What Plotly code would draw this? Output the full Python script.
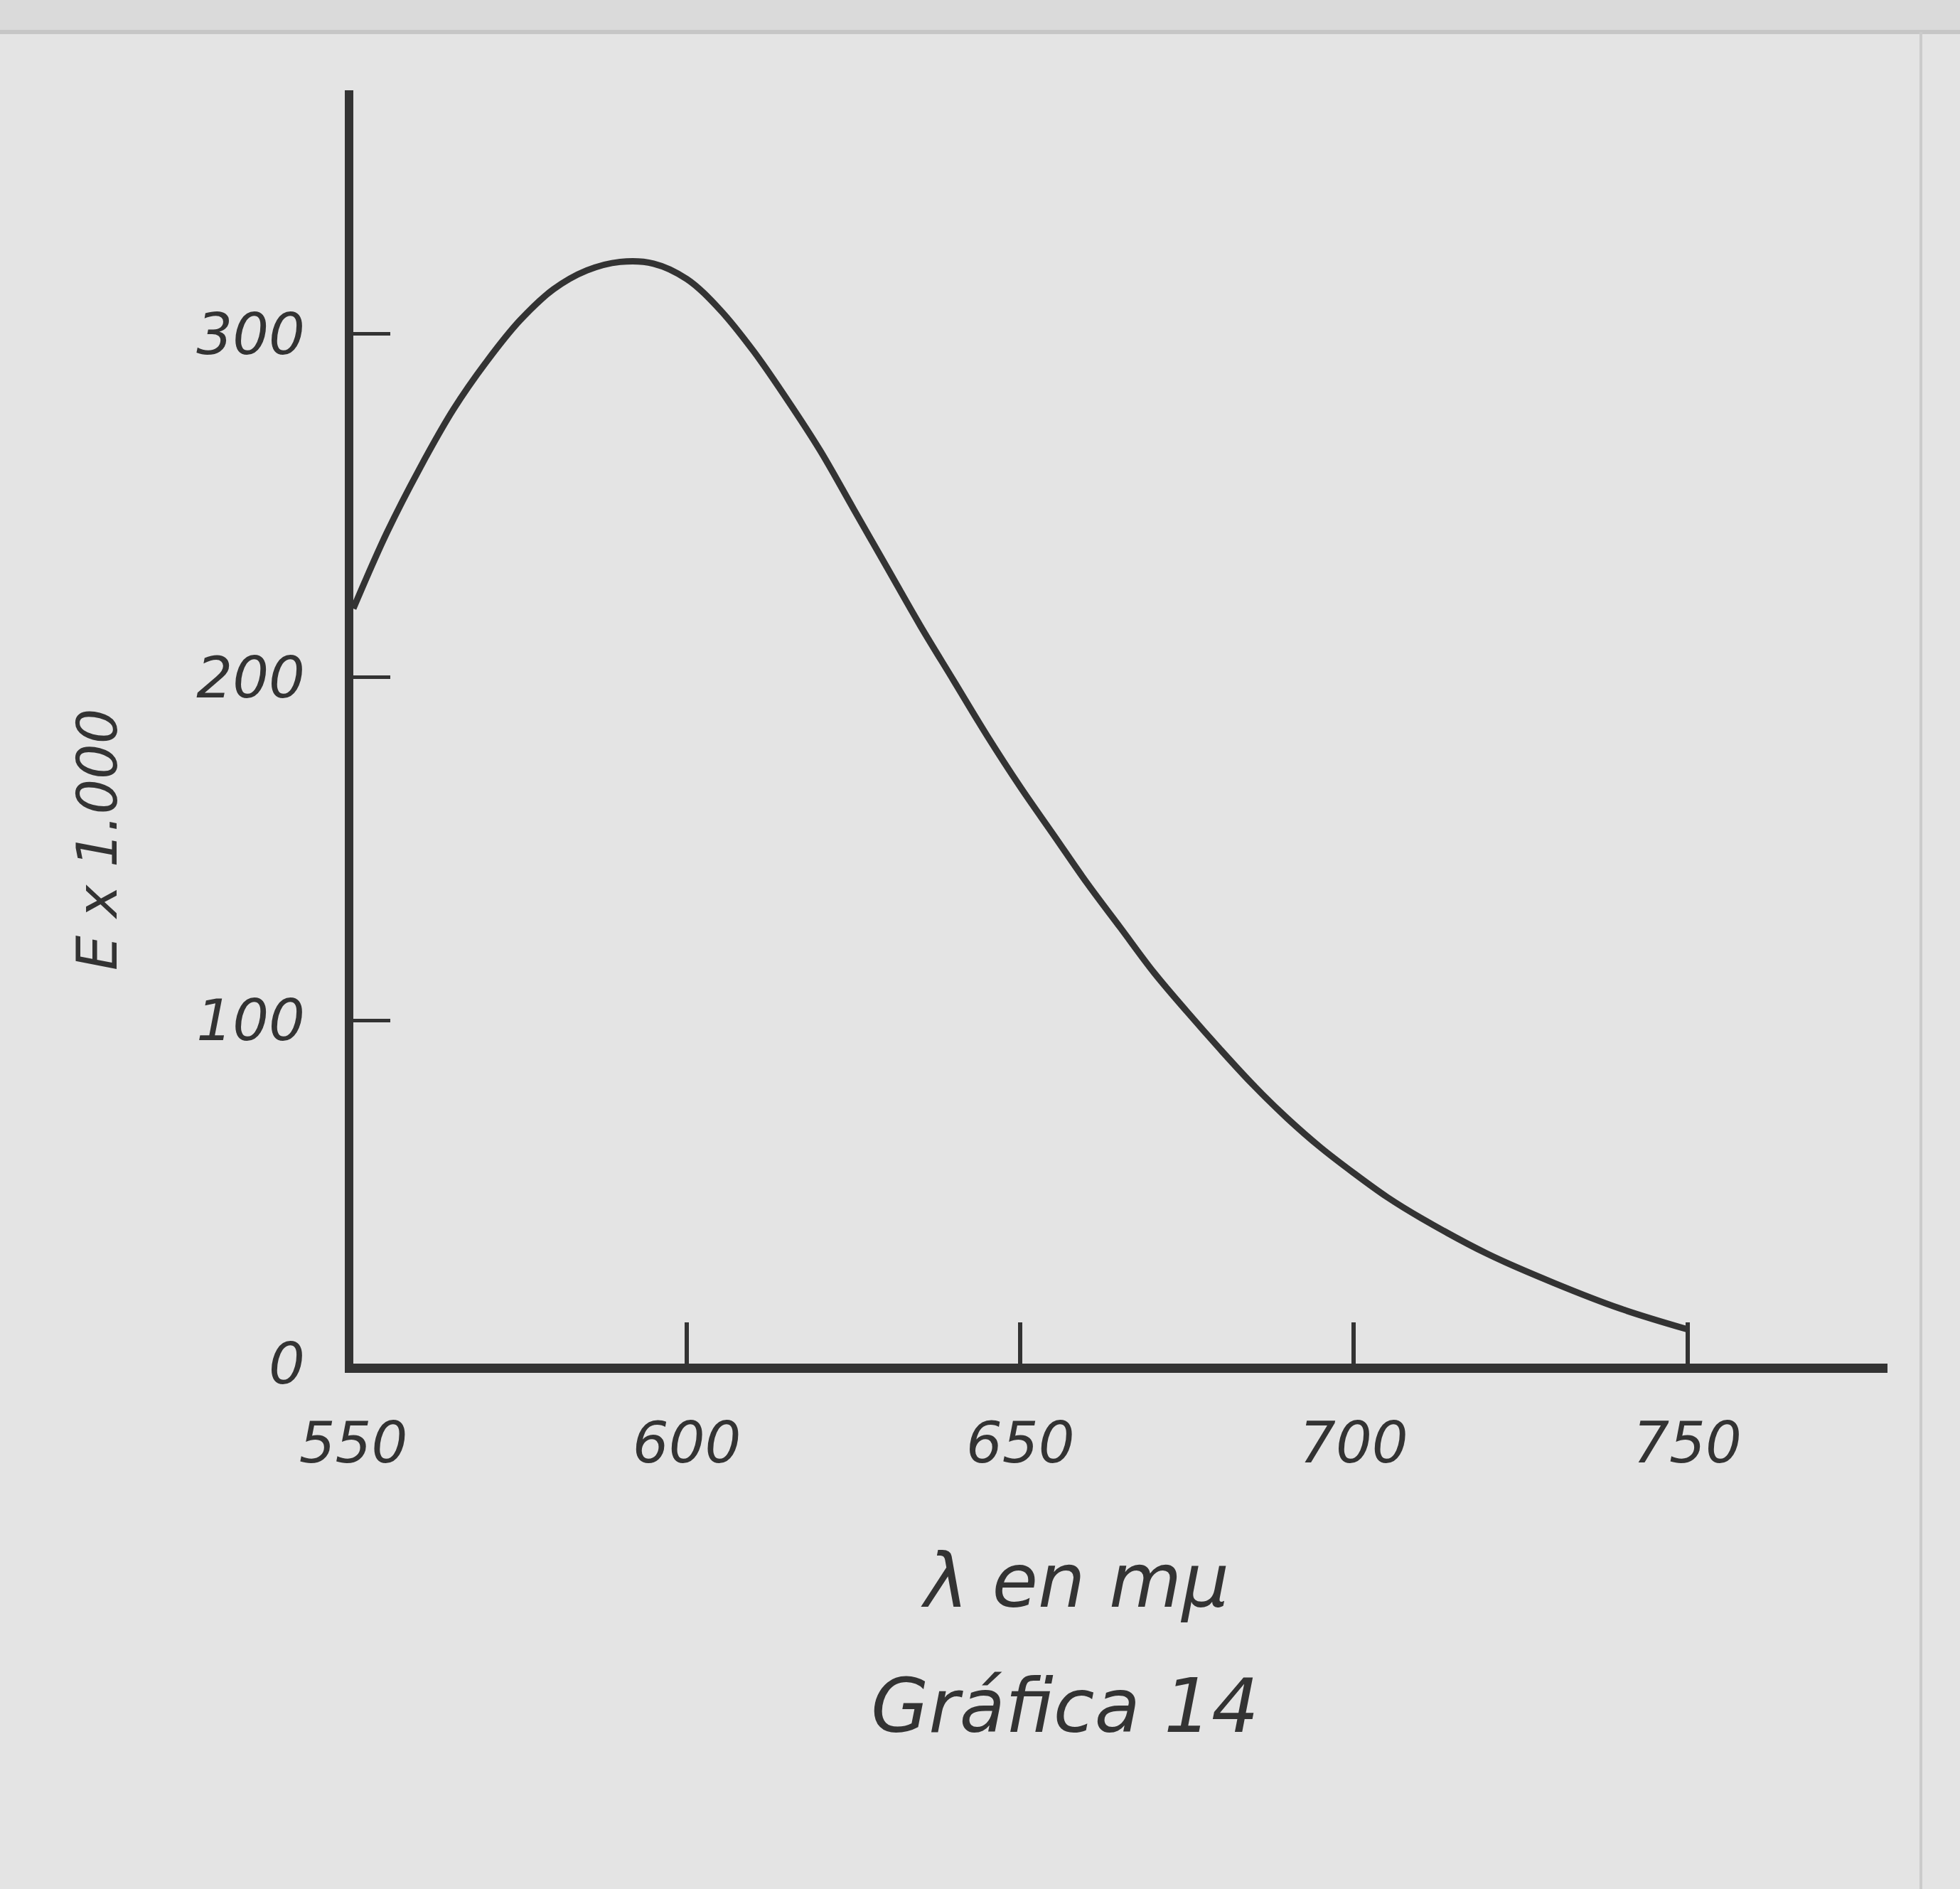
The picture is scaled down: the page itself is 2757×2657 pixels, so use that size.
import plotly.graph_objects as go

# Data (Gráfica 14)
wavelength_nm = [550, 555, 560, 565, 570, 575, 580, 585, 590, 595, 600, 605, 610, 615,
                 620, 625, 630, 635, 640, 645, 650, 655, 660, 665, 670, 675, 680, 685,
                 690, 695, 700, 705, 710, 720, 730, 740, 750]
extinction_x1000 = [220, 242, 261, 278, 292, 304, 313, 318.5, 321, 320.5, 316, 307, 295, 281,
                    266, 249, 232, 215, 199, 183, 168, 154, 140, 127, 114, 102.5, 91.5, 81,
                    71.5, 63, 55.5, 48.5, 42.5, 32, 23.5, 16, 10]

x_ticks = [550, 600, 650, 700, 750]
x_tick_labels = ["550", "600", "650", "700", "750"]
y_ticks = [0, 100, 200, 300]
y_tick_labels = ["0", "100", "200", "300"]

ink = "#333333"
paper = "#e4e4e4"
W, H = 2757, 2657
L, R, T, B = 497, 102, 127, 739

fig = go.Figure()
fig.add_trace(go.Scatter(
    x=wavelength_nm, y=extinction_x1000, mode="lines",
    line=dict(color=ink, width=9, shape="spline", smoothing=1.0),
    showlegend=False, hoverinfo="skip",
))

tick_font = dict(family="DejaVu Sans", size=80, color=ink, style="italic")

fig.update_layout(
    width=W, height=H,
    margin=dict(l=L, r=R, t=T, b=B, pad=0),
    paper_bgcolor=paper, plot_bgcolor=paper,
    xaxis=dict(
        range=[550, 780], tickvals=x_ticks, ticktext=x_tick_labels,
        showgrid=False, zeroline=False, showline=True, linecolor=ink, linewidth=13,
        ticks="inside", ticklen=58, tickwidth=6, tickcolor=ink,
        tickfont=tick_font, ticklabelstandoff=30, fixedrange=True,
    ),
    yaxis=dict(
        range=[0, 371], tickvals=y_ticks, ticktext=y_tick_labels,
        showgrid=False, zeroline=False, showline=True, linecolor=ink, linewidth=12,
        ticks="inside", ticklen=52, tickwidth=5, tickcolor=ink,
        tickfont=tick_font, ticklabelstandoff=40, fixedrange=True,
    ),
    annotations=[
        dict(text="E x 1.000", xref="paper", yref="paper", x=-0.1668, y=0.4115,
             textangle=-90, showarrow=False, xanchor="center", yanchor="middle",
             font=dict(family="DejaVu Sans", size=78, color=ink, style="italic")),
        dict(text="λ en mμ", xref="paper", yref="paper", x=0.4703, y=-0.1709,
             showarrow=False, xanchor="center", yanchor="middle",
             font=dict(family="DejaVu Sans", size=105, color=ink, style="italic")),
        dict(text="Gráfica 14", xref="paper", yref="paper", x=0.4638, y=-0.2691,
             showarrow=False, xanchor="center", yanchor="middle",
             font=dict(family="DejaVu Sans", size=105, color=ink, style="italic")),
    ],
    shapes=[
        dict(type="rect", xref="paper", yref="paper",
             x0=-L / (W - L - R), x1=1 + R / (W - L - R),
             y0=1 + (T - 45) / (H - T - B), y1=1 + T / (H - T - B),
             fillcolor="#dadada", line=dict(width=0), layer="below"),
        dict(type="line", xref="paper", yref="paper",
             x0=-L / (W - L - R), x1=1 + R / (W - L - R),
             y0=1 + (T - 45) / (H - T - B), y1=1 + (T - 45) / (H - T - B),
             line=dict(color="#c6c6c6", width=6), layer="below"),
        dict(type="line", xref="paper", yref="paper",
             x0=1 + (R - 55) / (W - L - R), x1=1 + (R - 55) / (W - L - R),
             y0=-B / (H - T - B), y1=1 + (T - 45) / (H - T - B),
             line=dict(color="#cbcbcb", width=4), layer="below"),
    ],
)

fig.write_html("out.html")
